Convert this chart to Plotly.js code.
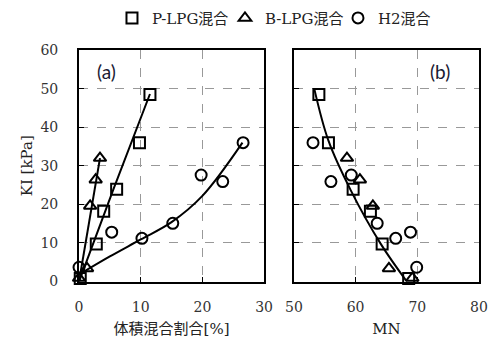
<!DOCTYPE html>
<html>
<head>
<meta charset="utf-8">
<script src="https://cdn.plot.ly/plotly-3.0.1.min.js"></script>
<style>html,body{margin:0;padding:0;background:#fff;}#chart{width:489px;height:338px;}</style>
</head>
<body>
<div id="chart"></div>
<script>
// Series names
const seriesNames = ['P-LPG混合', 'B-LPG混合', 'H2混合'];

// P-LPG blend
const pRatio = [0.2, 2.8, 4.0, 6.1, 9.8, 11.5];
const pMN    = [68.6, 64.3, 62.4, 59.6, 55.6, 54.05];
const pKI    = [0.8, 9.7, 18.2, 23.9, 36.0, 48.5];

// B-LPG blend
const bRatio = [0.0, 1.3, 1.8, 2.7, 3.4];
const bMN    = [69.2, 65.4, 62.8, 60.7, 58.6];
const bKI    = [0.9, 3.4, 19.6, 26.4, 32.0];

// H2 blend
const hRatio = [0.0, 5.3, 10.2, 15.2, 19.8, 23.3, 26.6];
const hMN    = [69.9, 68.9, 66.5, 63.5, 59.3, 56.0, 53.1];
const hKI    = [3.7, 12.8, 11.2, 15.1, 27.6, 25.9, 36.0];

// Trend curves
const pFitX = [0.0, 5.6, 11.5];
const pFitY = [0.0, 24.0, 48.6];
const bFitX = [0.0, 3.4];
const bFitY = [0.0, 32.0];
const hFitX = [0.0, 5.0, 10.0, 15.0, 20.0, 26.5];
const hFitY = [1.8, 6.5, 10.9, 15.4, 22.2, 36.0];
const mnFitX = [53.3, 55.6, 59.2, 64.1, 68.3];
const mnFitY = [50.0, 36.5, 23.7, 9.7, 0.0];

// Axis ticks
const ratioTicks = [0, 10, 20, 30];
const mnTicks = [50, 60, 70, 80];
const kiTicks = [0, 10, 20, 30, 40, 50, 60];

const serif = '"DejaVu Serif", "Noto Sans CJK JP", serif';
const symbols = ['square-open', 'triangle-up-open', 'circle-open'];

function pts(x, y, i, xa, ya, show) {
  return {type: 'scatter', mode: 'markers', x: x, y: y, xaxis: xa, yaxis: ya,
    name: seriesNames[i], legendgroup: 'g' + i, showlegend: show,
    marker: {symbol: symbols[i], size: 11, color: '#000', line: {color: '#000', width: 2}},
    cliponaxis: false, hoverinfo: 'skip'};
}
function fit(x, y, xa, ya) {
  return {type: 'scatter', mode: 'lines', x: x, y: y, xaxis: xa, yaxis: ya, showlegend: false,
    line: {color: '#000', width: 2, shape: 'spline', smoothing: 1}, hoverinfo: 'skip'};
}

const data = [
  fit(pFitX, pFitY, 'x', 'y'),
  fit(bFitX, bFitY, 'x', 'y'),
  fit(hFitX, hFitY, 'x', 'y'),
  fit(mnFitX, mnFitY, 'x2', 'y2'),
  pts(pRatio, pKI, 0, 'x', 'y', true),
  pts(bRatio, bKI, 1, 'x', 'y', true),
  pts(hRatio, hKI, 2, 'x', 'y', true),
  pts(pMN, pKI, 0, 'x2', 'y2', false),
  pts(bMN, bKI, 1, 'x2', 'y2', false),
  pts(hMN, hKI, 2, 'x2', 'y2', false)
];

const axBase = {
  showline: true, mirror: true, linecolor: '#000', linewidth: 2,
  showgrid: true, gridcolor: '#999', griddash: 'dash', gridwidth: 1,
  zeroline: false, ticks: 'inside', ticklen: 5, tickcolor: '#000', tickwidth: 1,
  tickfont: {family: serif, size: 14, color: '#333'}, fixedrange: true
};
const titleFont = {family: serif, size: 15, color: '#222'};

const layout = {
  width: 489, height: 338,
  margin: {l: 0, r: 0, t: 0, b: 0},
  paper_bgcolor: '#fff', plot_bgcolor: '#fff',
  font: {family: serif, color: '#222'},
  showlegend: true,
  legend: {orientation: 'h', x: 0.229, xanchor: 'left', y: 0.995, yanchor: 'top',
    font: {family: serif, size: 15, color: '#222'}, itemwidth: 30, tracegroupgap: 0,
    entrywidth: 68, entrywidthmode: 'pixels',
    bgcolor: 'rgba(0,0,0,0)'},
  xaxis: Object.assign({}, axBase, {domain: [0.1616, 0.54], range: [0, 30], tickvals: ratioTicks,
    ticklabelstandoff: 12, anchor: 'y',
    title: {text: '体積混合割合[%]', font: titleFont, standoff: 11}}),
  yaxis: Object.assign({}, axBase, {domain: [0.167, 0.852], range: [0, 60], tickvals: kiTicks,
    ticklabelstandoff: 16, anchor: 'x',
    title: {text: 'KI [kPa]', font: titleFont, standoff: 4}}),
  xaxis2: Object.assign({}, axBase, {domain: [0.601, 0.9796], range: [50, 80], tickvals: mnTicks,
    ticklabelstandoff: 12, anchor: 'y2',
    title: {text: 'MN', font: titleFont, standoff: 11}}),
  yaxis2: Object.assign({}, axBase, {domain: [0.167, 0.852], range: [0, 60], tickvals: kiTicks,
    showticklabels: false, anchor: 'x2'}),
  annotations: [
    {text: '(a)', xref: 'x', yref: 'y', x: 4.5, y: 54.5, showarrow: false,
      font: {family: 'Lato, "Open Sans", sans-serif', size: 19, color: '#1a1a33'}},
    {text: '(b)', xref: 'x2', yref: 'y2', x: 73.7, y: 54.5, showarrow: false,
      font: {family: 'Lato, "Open Sans", sans-serif', size: 19, color: '#1a1a33'}}
  ]
};

Plotly.newPlot('chart', data, layout, {displayModeBar: false, staticPlot: true});
</script>
</body>
</html>
